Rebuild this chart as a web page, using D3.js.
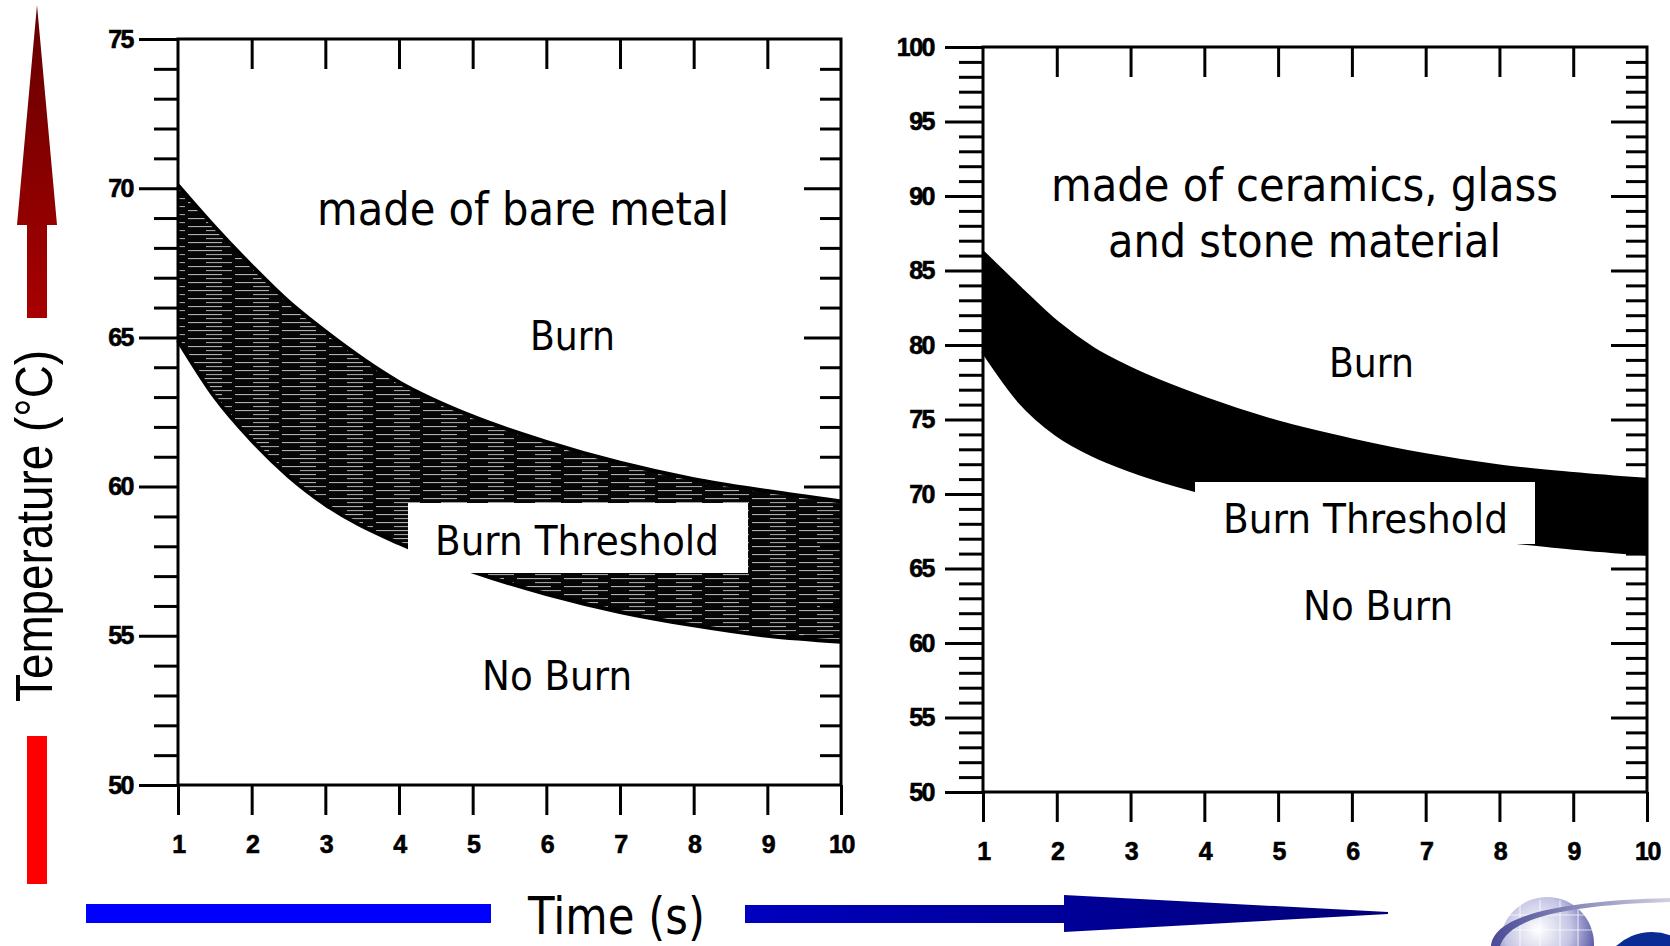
<!DOCTYPE html>
<html>
<head>
<meta charset="utf-8">
<script src="https://cdn.jsdelivr.net/npm/d3@7"></script>
<style>
  body { margin: 0; background: #fff; }
  svg { display: block; }
</style>
</head>
<body>
<div id="chart"></div>
<script>
var svgWidth = 1670;
var svgHeight = 946;

// time ticks (s) on both x axes
var timeTicks = [1, 2, 3, 4, 5, 6, 7, 8, 9, 10];
var bandTimes = [1, 1.5, 2, 2.5, 3, 4, 5, 6, 7, 8, 9, 10];

// left panel: surfaces made of bare metal (band edges, deg C)
var metalUpper = [70.1, 68.7, 67.4, 66.2, 65.2, 63.5, 62.35, 61.5, 60.8, 60.25, 59.85, 59.5];
var metalLower = [64.9, 63.0, 61.55, 60.35, 59.4, 58.1, 57.15, 56.4, 55.8, 55.35, 55.0, 54.8];
var metalTicks = [50, 55, 60, 65, 70, 75];

// right panel: ceramics, glass and stone
var ceramicUpper = [86.2, 83.8, 81.5, 79.7, 78.4, 76.4, 74.8, 73.6, 72.6, 71.85, 71.35, 70.95];
var ceramicLower = [79.6, 76.2, 74.0, 72.6, 71.6, 70.1, 69.0, 68.1, 67.4, 66.9, 66.4, 66.0];
var ceramicTicks = [50, 55, 60, 65, 70, 75, 80, 85, 90, 95, 100];

var svg = d3.select("#chart")
  .append("svg")
  .attr("width", svgWidth)
  .attr("height", svgHeight);

var defs = svg.append("defs");

// horizontal hatching for the metal band (streaky, scanned look)
var hatch = defs.append("pattern")
  .attr("id", "hatch")
  .attr("patternUnits", "userSpaceOnUse")
  .attr("width", 47)
  .attr("height", 8);
hatch.append("rect").attr("width", 47).attr("height", 8).attr("fill", "#060606");
hatch.append("rect").attr("x", 0).attr("y", 2).attr("width", 34).attr("height", 1.1).attr("fill", "#b0b0b0");
hatch.append("rect").attr("x", 18).attr("y", 6).attr("width", 26).attr("height", 1.1).attr("fill", "#a0a0a0");

var redGrad = defs.append("linearGradient")
  .attr("id", "redGrad").attr("x1", 0).attr("y1", 0).attr("x2", 0).attr("y2", 1);
redGrad.append("stop").attr("offset", "0%").attr("stop-color", "#640000");
redGrad.append("stop").attr("offset", "100%").attr("stop-color", "#a80000");

var blueGrad = defs.append("linearGradient")
  .attr("id", "blueGrad").attr("x1", 0).attr("y1", 0).attr("x2", 1).attr("y2", 0);
blueGrad.append("stop").attr("offset", "0%").attr("stop-color", "#0000c0");
blueGrad.append("stop").attr("offset", "50%").attr("stop-color", "#000098");
blueGrad.append("stop").attr("offset", "100%").attr("stop-color", "#000078");

var globeGrad = defs.append("radialGradient")
  .attr("id", "globeGrad").attr("cx", "40%").attr("cy", "35%").attr("r", "65%");
globeGrad.append("stop").attr("offset", "0%").attr("stop-color", "#ffffff");
globeGrad.append("stop").attr("offset", "55%").attr("stop-color", "#c4c4e4");
globeGrad.append("stop").attr("offset", "100%").attr("stop-color", "#5050a0");

var swooshGrad = defs.append("linearGradient")
  .attr("id", "swooshGrad").attr("x1", 0).attr("y1", 0).attr("x2", 1).attr("y2", 0);
swooshGrad.append("stop").attr("offset", "0%").attr("stop-color", "#4a4a98");
swooshGrad.append("stop").attr("offset", "100%").attr("stop-color", "#d0d0e0");

var annoFont = "'DejaVu Sans', Verdana, sans-serif";

// text squeezed into the measured box
function fitText(g, str, x0, x1, base, size, family) {
  return g.append("text")
    .attr("x", x0)
    .attr("y", base)
    .attr("font-size", size)
    .attr("font-family", family || annoFont)
    .attr("fill", "#000")
    .attr("textLength", x1 - x0)
    .attr("lengthAdjust", "spacingAndGlyphs")
    .text(str);
}

function drawPanel(p) {
  var x = d3.scaleLinear().domain([1, 10]).range(p.xRange);
  var y = d3.scaleLinear().domain(p.yDomain).range(p.yRange);
  var g = svg.append("g");

  var rows = bandTimes.map(function (t, i) {
    return { t: t, hi: p.upper[i], lo: p.lower[i] };
  });

  var area = d3.area()
    .x(d => x(d.t))
    .y0(d => y(d.lo))
    .y1(d => y(d.hi))
    .curve(d3.curveMonotoneX);

  g.append("path")
    .datum(rows)
    .attr("d", area)
    .attr("fill", p.fill);

  ["hi", "lo"].forEach(function (k) {
    g.append("path")
      .datum(rows)
      .attr("d", d3.line().x(d => x(d.t)).y(d => y(d[k])).curve(d3.curveMonotoneX))
      .attr("fill", "none")
      .attr("stroke", "#000")
      .attr("stroke-width", 4);
  });

  var majors = p.ticks;
  var minors = d3.range(p.yDomain[0], p.yDomain[1] + 1).filter(v => majors.indexOf(v) < 0);
  var x0 = p.xRange[0], x1 = p.xRange[1];
  var yb = p.yRange[0], yt = p.yRange[1];

  // left axis: majors with labels, minors without
  g.append("g")
    .attr("transform", `translate(${x0},0)`)
    .call(d3.axisLeft(y).tickValues(majors).tickSize(p.majorLen).tickPadding(p.labelPad).tickFormat(d3.format("d")));
  g.append("g")
    .attr("transform", `translate(${x0},0)`)
    .call(d3.axisLeft(y).tickValues(minors).tickSize(p.minorLen).tickFormat(""));

  // right axis, ticks pointing inward
  g.append("g")
    .attr("transform", `translate(${x1},0)`)
    .call(d3.axisLeft(y).tickValues(majors.slice(1, -1)).tickSize(p.majorLen - 2).tickFormat(""));
  g.append("g")
    .attr("transform", `translate(${x1},0)`)
    .call(d3.axisLeft(y).tickValues(minors).tickSize(p.minorLen - 3).tickFormat(""));

  // top axis, ticks pointing down
  g.append("g")
    .attr("transform", `translate(0,${yt})`)
    .call(d3.axisBottom(x).tickValues(timeTicks.slice(1, -1)).tickSize(30).tickFormat(""));

  // bottom axis
  g.append("g")
    .attr("transform", `translate(0,${yb})`)
    .call(d3.axisBottom(x).tickValues(timeTicks).tickSize(30).tickPadding(20).tickFormat(d3.format("d")));

  g.selectAll(".domain").remove();
  g.selectAll(".tick line").attr("stroke", "#000").attr("stroke-width", 3);
  g.selectAll(".tick text")
    .attr("font-family", "'Liberation Sans', Arial, sans-serif")
    .attr("font-weight", "bold")
    .attr("font-size", 25)
    .attr("letter-spacing", -1.5)
    .attr("stroke", "#000")
    .attr("stroke-width", 0.6)
    .attr("fill", "#000");

  g.append("rect")
    .attr("x", x0).attr("y", yt)
    .attr("width", x1 - x0).attr("height", yb - yt)
    .attr("fill", "none")
    .attr("stroke", "#000")
    .attr("stroke-width", 3);

  return g;
}

var left = drawPanel({
  xRange: [178, 841], yDomain: [50, 75], yRange: [785, 39],
  upper: metalUpper, lower: metalLower, ticks: metalTicks,
  fill: "url(#hatch)", majorLen: 39, minorLen: 24, labelPad: 6
});

var right = drawPanel({
  xRange: [983, 1647], yDomain: [50, 100], yRange: [792, 47],
  upper: ceramicUpper, lower: ceramicLower, ticks: ceramicTicks,
  fill: "#000", majorLen: 38, minorLen: 24, labelPad: 11
});

// annotations, left panel
fitText(left, "made of bare metal", 317, 729, 225, 47);
fitText(left, "Burn", 530, 615, 350, 40);
left.append("rect").attr("x", 408).attr("y", 503).attr("width", 340).attr("height", 70).attr("fill", "#fff");
fitText(left, "Burn Threshold", 435, 719, 555, 40);
fitText(left, "No Burn", 482, 632, 690, 40);

// annotations, right panel
fitText(right, "made of ceramics, glass", 1051, 1558, 201, 47);
fitText(right, "and stone material", 1108, 1501, 257, 47);
fitText(right, "Burn", 1329, 1414, 377, 40);
right.append("rect").attr("x", 1195).attr("y", 482).attr("width", 340).attr("height", 62).attr("fill", "#fff");
fitText(right, "Burn Threshold", 1223, 1508, 533, 40);
fitText(right, "No Burn", 1303, 1453, 620, 40);

// temperature arrow and title
var deco = svg.append("g");
deco.append("path")
  .attr("d", "M37,5 L57,225 L47,225 L47,318 L27,318 L27,225 L17,225 Z")
  .attr("fill", "url(#redGrad)");
deco.append("rect").attr("x", 27).attr("y", 736).attr("width", 20).attr("height", 148).attr("fill", "#ff0000");
deco.append("g")
  .attr("transform", "translate(52,702) rotate(-90)")
  .call(function (sel) {
    fitText(sel, "Temperature (\u00B0C)", 0, 352, 0, 51, "'Liberation Sans', Arial, sans-serif");
  });

// time arrow and title
deco.append("rect").attr("x", 86).attr("y", 904).attr("width", 405).attr("height", 19).attr("fill", "#0000ff");
deco.append("path")
  .attr("d", "M745,905 L1064,905 L1064,895 L1388,912 L1388,914 L1064,932 L1064,923 L745,923 Z")
  .attr("fill", "url(#blueGrad)");
fitText(deco, "Time (s)", 528, 705, 934, 52);

// corner logo fragment
var logo = svg.append("g");
logo.append("circle").attr("cx", 1547).attr("cy", 944).attr("r", 47).attr("fill", "url(#globeGrad)");
[1520, 1540, 1560, 1578].forEach(function (gx) {
  logo.append("line").attr("x1", gx).attr("y1", 900).attr("x2", gx).attr("y2", 946)
    .attr("stroke", "#ffffff").attr("stroke-width", 1.2).attr("opacity", 0.7);
});
[915, 930].forEach(function (gy) {
  logo.append("line").attr("x1", 1505).attr("y1", gy).attr("x2", 1592).attr("y2", gy)
    .attr("stroke", "#ffffff").attr("stroke-width", 1.2).attr("opacity", 0.7);
});
logo.append("path")
  .attr("d", "M1491,946 C1494,915 1560,901 1670,898 L1670,902 C1572,905 1510,916 1500,946 Z")
  .attr("fill", "url(#swooshGrad)");
logo.append("circle").attr("cx", 1652).attr("cy", 985).attr("r", 53).attr("fill", "#0a2a94");
</script>
</body>
</html>
